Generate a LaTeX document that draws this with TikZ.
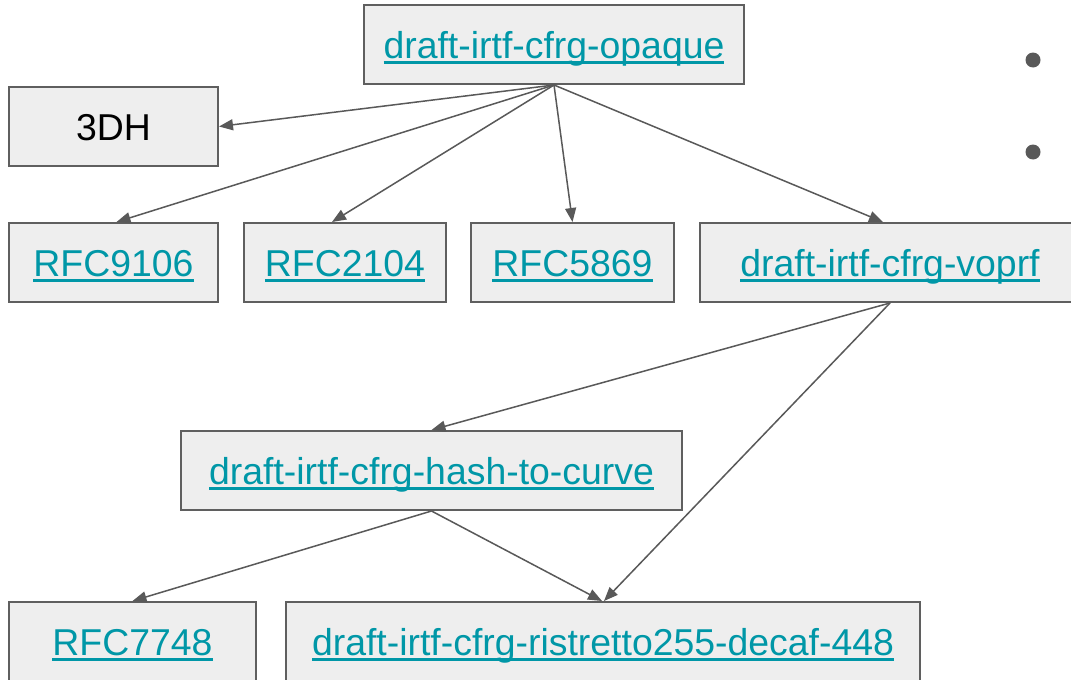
\documentclass[tikz,border=0pt]{standalone}
\usepackage{fontspec}
\setmainfont{Liberation Sans}
\usetikzlibrary{arrows.meta}
\definecolor{linkc}{HTML}{0097A7}
\definecolor{boxfill}{HTML}{EEEEEE}
\definecolor{boxline}{HTML}{5F5F5F}
\definecolor{arrowc}{HTML}{595959}
% underlined hyperlink-style text
\newcommand\linktext[1]{{\color{linkc}\setbox0\hbox{#1}\rlap{\raisebox{-5.5pt}{\rule{\wd0}{3.5pt}}}\box0}}
\tikzset{
  doc/.style={draw=boxline, line width=2pt, fill=boxfill, inner sep=0pt,
    minimum height=79pt, text height=28pt, text depth=0pt,
    font=\fontsize{37.4}{42}\selectfont},
  dep/.style={draw=arrowc, line width=1.5pt, -{Triangle[length=14pt,width=11pt]}},
  dot/.style={circle, fill=arrowc, inner sep=0pt, minimum size=15pt}
}
\begin{document}
\begin{tikzpicture}[x=1pt,y=-1pt]
\useasboundingbox (0,0) rectangle (1071,680);
\clip (0,0) rectangle (1071,680);
\fill[white] (0,0) rectangle (1071,680);

\node[doc, minimum width=380pt] (opaque) at (554,44.5) {\linktext{draft-irtf-cfrg-opaque}};
\node[doc, minimum width=209pt] (tdh) at (113.5,126.5) {3DH};
\node[doc, minimum width=209pt] (rfca) at (113.5,262.5) {\linktext{RFC9106}};
\node[doc, minimum width=202pt] (rfcb) at (345,262.5) {\linktext{RFC2104}};
\node[doc, minimum width=203pt] (rfcc) at (572.5,262.5) {\linktext{RFC5869}};
\node[doc, minimum width=380pt] (voprf) at (890,262.5) {\linktext{draft-irtf-cfrg-voprf}};
\node[doc, minimum width=501pt] (h2c) at (431.5,470.5) {\linktext{draft-irtf-cfrg-hash-to-curve}};
\node[doc, minimum width=247pt] (rfcd) at (132.5,641.5) {\linktext{RFC7748}};
\node[doc, minimum width=634pt] (rist) at (603,641.5) {\linktext{draft-irtf-cfrg-ristretto255-decaf-448}};

\node[dot] (b1) at (1033,60) {};
\node[dot] (b2) at (1033,152) {};

\draw[dep] (opaque.south) -- (tdh.east);
\draw[dep] (opaque.south) -- ([xshift=3pt]rfca.north);
\draw[dep] (opaque.south) -- ([xshift=-13pt]rfcb.north);
\draw[dep] (opaque.south) -- (rfcc.north);
\draw[dep] (opaque.south) -- ([xshift=-7pt]voprf.north);
\draw[dep] (voprf.south) -- (h2c.north);
\draw[dep] (voprf.south) -- ([xshift=1pt]rist.north);
\draw[dep] (h2c.south) -- (rfcd.north);
\draw[dep] (h2c.south) -- ([xshift=-1pt]rist.north);
\end{tikzpicture}
\end{document}
